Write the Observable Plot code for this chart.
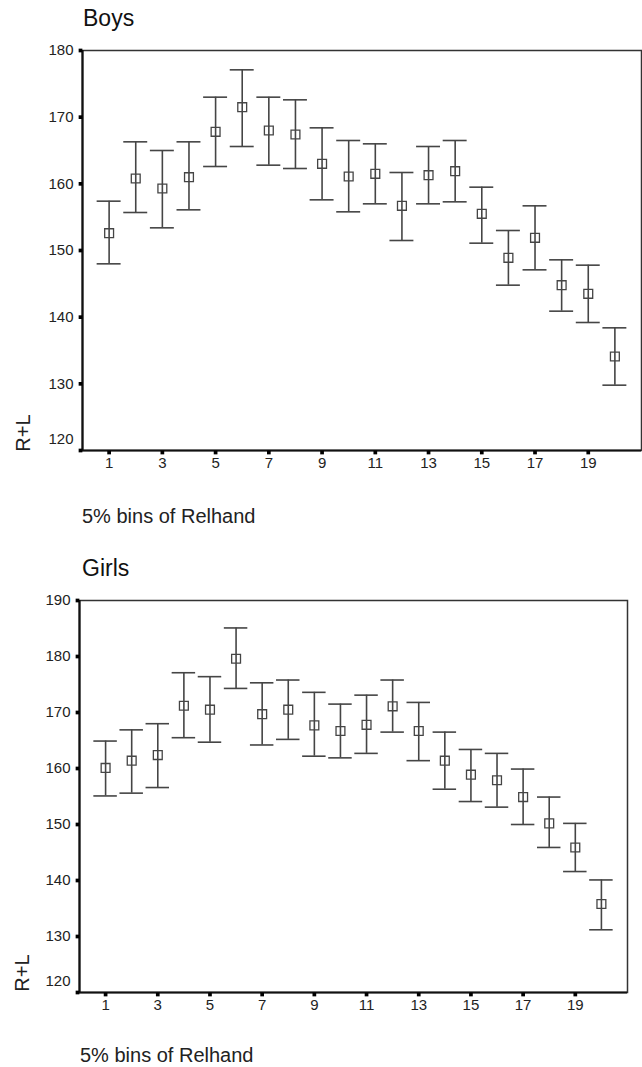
<!DOCTYPE html>
<html>
<head>
<meta charset="utf-8">
<script src="https://cdn.jsdelivr.net/npm/d3@7"></script>
<script src="https://cdn.jsdelivr.net/npm/@observablehq/plot@0.6"></script>
<style>
  html, body { margin: 0; padding: 0; background: #fff; }
  #c { position: relative; width: 642px; height: 1067px; font-family: Arial, "Liberation Sans", sans-serif; color: #111; overflow: hidden; }
  .abs { position: absolute; white-space: nowrap; line-height: 1; }
  .title { font-size: 23px; }
  .xlab { font-size: 20px; color: #222; }
  .ylab { font-size: 20px; color: #222; transform: translate(-50%, -50%) rotate(-90deg); }
  svg.chart { position: absolute; left: 0; }
</style>
</head>
<body>
<div id="c">
  <div class="abs title" style="left:83px;top:7px">Boys</div>
  <div class="abs ylab" style="left:23px;top:433px">R+L</div>
  <div class="abs xlab" style="left:82px;top:506px">5% bins of Relhand</div>
  <div class="abs title" style="left:82px;top:557px">Girls</div>
  <div class="abs ylab" style="left:22px;top:973px">R+L</div>
  <div class="abs xlab" style="left:80px;top:1045px">5% bins of Relhand</div>
</div>
<script>
const bins = [1,2,3,4,5,6,7,8,9,10,11,12,13,14,15,16,17,18,19,20];
const xTicks = [1,3,5,7,9,11,13,15,17,19];

const boysMean  = [152.6,160.8,159.3,161.0,167.8,171.5,168.0,167.4,163.0,161.1,161.5,156.7,161.3,161.9,155.5,148.9,151.9,144.8,143.5,134.1];
const boysUpper = [157.4,166.3,165.0,166.3,173.0,177.1,173.0,172.6,168.4,166.5,166.0,161.7,165.6,166.5,159.5,153.0,156.7,148.6,147.8,138.4];
const boysLower = [148.0,155.7,153.4,156.1,162.6,165.6,162.8,162.3,157.6,155.8,157.0,151.5,157.0,157.3,151.1,144.8,147.1,140.9,139.2,129.8];
const boysYTicks = [120,130,140,150,160,170,180];

const girlsMean  = [160.1,161.4,162.4,171.2,170.5,179.6,169.7,170.5,167.7,166.7,167.8,171.1,166.7,161.4,158.9,157.9,154.9,150.2,145.9,135.8];
const girlsUpper = [164.9,166.9,168.0,177.1,176.4,185.1,175.3,175.8,173.6,171.5,173.1,175.8,171.8,166.5,163.4,162.7,159.9,154.9,150.2,140.1];
const girlsLower = [155.1,155.6,156.6,165.5,164.7,174.3,164.2,165.2,162.2,161.9,162.7,166.5,161.4,156.3,154.1,153.1,150.0,145.9,141.6,131.2];
const girlsYTicks = [120,130,140,150,160,170,180,190];

const barColor = "#454545";

function makeChart({mean, upper, lower, yTicks, yDomain, top, height, marginTop, marginLeft, marginRight}) {
  const data = bins.map((b, i) => ({bin: b, mean: mean[i], hi: upper[i], lo: lower[i]}));
  const yMin = yDomain[0];
  const xMin = 0;
  const svg = Plot.plot({
    width: 642,
    height,
    marginTop,
    marginBottom: 30,
    marginLeft,
    marginRight,
    className: "chart",
    style: {fontFamily: "Arial, 'Liberation Sans', sans-serif", fontSize: "15px", color: "#222", background: "transparent"},
    x: {domain: [0, 21], label: null},
    y: {domain: yDomain, label: null},
    marks: [
      Plot.frame({stroke: "#333", strokeWidth: 1.5}),
      Plot.ruleX([xMin], {stroke: "#111", strokeWidth: 2.2}),
      Plot.ruleY([yMin], {stroke: "#111", strokeWidth: 2.2}),
      // tick squares
      Plot.dot(yTicks, {x: () => xMin, y: d => d, symbol: "square", r: 2.1, fill: "#000", stroke: null, dx: -2}),
      Plot.dot(xTicks, {x: d => d, y: () => yMin, symbol: "square", r: 2.1, fill: "#000", stroke: null, dy: 2}),
      // tick labels
      Plot.axisY({ticks: yTicks.filter(v => v !== yMin), tickSize: 0, tickPadding: 9, label: null, fill: "#222"}),
      Plot.axisY({ticks: [yMin], tickSize: 0, tickPadding: 9, dy: -11, label: null, fill: "#222"}),
      Plot.axisX({ticks: xTicks, tickSize: 0, tickPadding: 7, label: null, fill: "#222"}),
      // error bars
      Plot.ruleX(data, {x: "bin", y1: "lo", y2: "hi", stroke: barColor, strokeWidth: 1.6}),
      Plot.ruleY(data, {y: "hi", x1: d => d.bin - 0.45, x2: d => d.bin + 0.45, stroke: barColor, strokeWidth: 1.6}),
      Plot.ruleY(data, {y: "lo", x1: d => d.bin - 0.45, x2: d => d.bin + 0.45, stroke: barColor, strokeWidth: 1.6}),
      Plot.dot(data, {x: "bin", y: "mean", symbol: "square", r: 5, stroke: barColor, fill: "none", strokeWidth: 1.3})
    ]
  });
  svg.style.top = top + "px";
  svg.style.position = "absolute";
  svg.style.left = "0px";
  svg.querySelectorAll("text").forEach(t => {
    t.setAttribute("font-size", "15");
    t.style.fontSize = "15px";
  });
  svg.querySelectorAll("g").forEach(g => { if (g.hasAttribute("font-size")) g.setAttribute("font-size", "15"); });
  document.getElementById("c").appendChild(svg);
}

makeChart({mean: boysMean, upper: boysUpper, lower: boysLower, yTicks: boysYTicks, yDomain: [120, 180],
  top: 40, height: 440, marginTop: 10, marginLeft: 82, marginRight: 1});
makeChart({mean: girlsMean, upper: girlsUpper, lower: girlsLower, yTicks: girlsYTicks, yDomain: [120, 190],
  top: 580, height: 442, marginTop: 20, marginLeft: 79, marginRight: 15});
</script>
</body>
</html>
